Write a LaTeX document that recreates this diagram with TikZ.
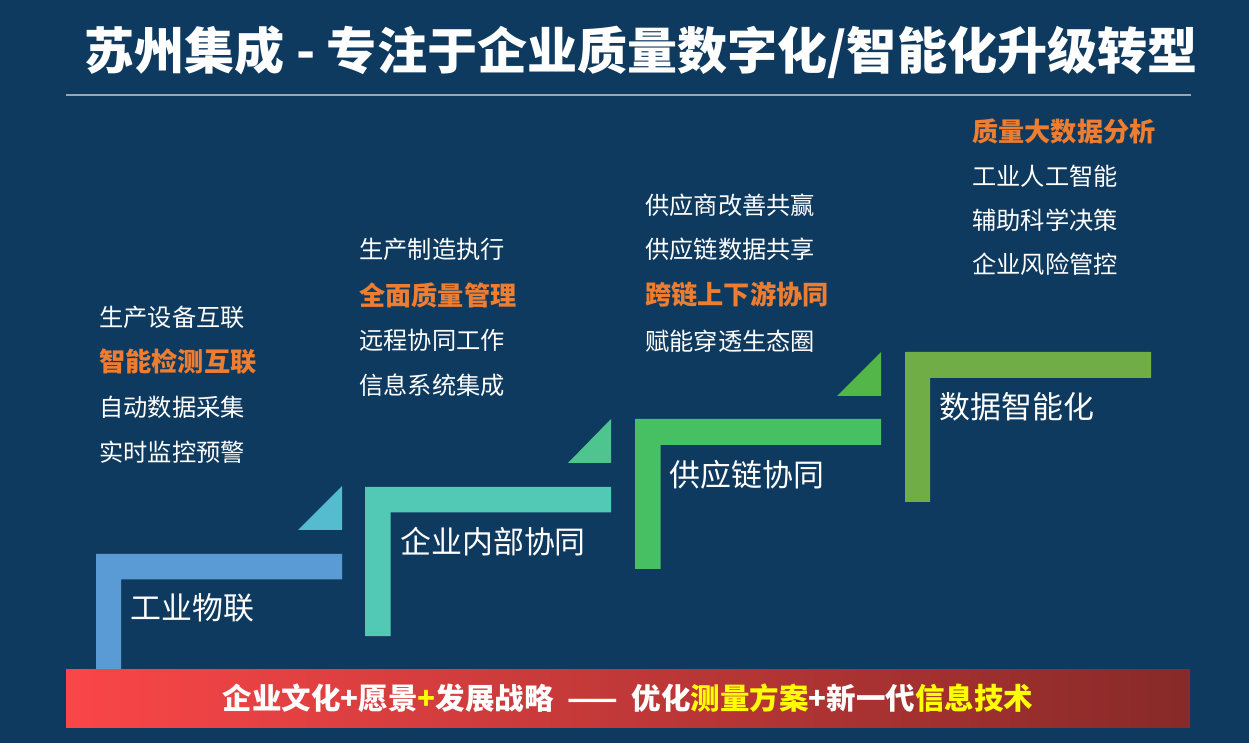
\documentclass[tikz,border=0pt]{standalone}
\usepackage{fontspec}
\setmainfont{Noto Sans CJK SC}
\usetikzlibrary{positioning}
\definecolor{jcbg}{HTML}{0F3A5F}
\definecolor{jcrule}{HTML}{9AA6B2}
\definecolor{jcblue}{HTML}{5B9BD5}
\definecolor{jcteal}{HTML}{52C9B5}
\definecolor{jcgreen}{HTML}{47BF63}
\definecolor{jcolive}{HTML}{70AD47}
\definecolor{jctriA}{HTML}{55BBCF}
\definecolor{jctriB}{HTML}{4EC48E}
\definecolor{jctriC}{HTML}{52B748}
\definecolor{jcorange}{HTML}{ED7D31}
\definecolor{jcyellow}{HTML}{FFFF00}
\definecolor{jcredL}{HTML}{FA4648}
\definecolor{jcredR}{HTML}{872A28}

\begin{document}
\begin{tikzpicture}[
        x=0.02cm, y=-0.02cm,
        every node/.style={inner sep=0pt, text=white},
        title/.style={font=\fontsize{28.5}{32}\selectfont\bfseries},
        item/.style={anchor=west, font=\fontsize{13.8}{16}\selectfont},
        hot/.style={anchor=west, text=jcorange, font=\fontsize{14.9}{16}\selectfont\bfseries},
        stagelabel/.style={anchor=west, font=\fontsize{17.6}{20}\selectfont},
        basebar/.style={font=\fontsize{16.8}{18}\selectfont\bfseries},
      ]
      % background and frame
      \fill[jcbg] (0,0) rectangle (1249,743);
      \useasboundingbox (0,0) rectangle (1249,743);

      % title
      \node[title] (head) at (641,52) {苏州集成 - 专注于企业质量数字化/智能化升级转型};
      \draw[jcrule, line width=1pt] (66,95) -- (1191,95);

      % steps
      \fill[jcblue] (96,704) -- (96,554) -- (342,554) -- (342,579.5) -- (121,579.5) -- (121,704) -- cycle;
      \fill[jcteal] (365,636) -- (365,487) -- (611,487) -- (611,512.5) -- (390.5,512.5) -- (390.5,636) -- cycle;
      \fill[jcgreen] (635,569) -- (635,419) -- (881,419) -- (881,445) -- (660.5,445) -- (660.5,569) -- cycle;
      \fill[jcolive] (905,502) -- (905,352) -- (1151,352) -- (1151,378) -- (930,378) -- (930,502) -- cycle;

      % arrows between steps
      \fill[jctriA] (342,486) -- (298,530) -- (342,530) -- cycle;
      \fill[jctriB] (611,419) -- (568,463) -- (611,463) -- cycle;
      \fill[jctriC] (881,352) -- (837,396) -- (881,396) -- cycle;

      \node[stagelabel] (iot) at (130,608) {工业物联};
      \node[stagelabel] (inner) at (400,542) {企业内部协同};
      \node[stagelabel] (chain) at (669,475) {供应链协同};
      \node[stagelabel] (data) at (939,407) {数据智能化};

      % lists
      \node[item] (iotA) at (99,317) {生产设备互联};
      \node[hot]  (iotB) at (99,362) {智能检测互联};
      \node[item] (iotC) at (99,407) {自动数据采集};
      \node[item] (iotD) at (99,452) {实时监控预警};

      \node[item] (inA) at (359,249) {生产制造执行};
      \node[hot]  (inB) at (359,295) {全面质量管理};
      \node[item] (inC) at (359,340) {远程协同工作};
      \node[item] (inD) at (359,385) {信息系统集成};

      \node[item] (chA) at (645,205) {供应商改善共赢};
      \node[item] (chB) at (645,249) {供应链数据共享};
      \node[hot]  (chC) at (645,294) {跨链上下游协同};
      \node[item] (chD) at (645,341) {赋能穿透生态圈};

      \node[hot]  (daA) at (972,131) {质量大数据分析};
      \node[item] (daB) at (972,176) {工业人工智能};
      \node[item] (daC) at (972,220) {辅助科学决策};
      \node[item] (daD) at (972,264) {企业风险管控};

      % base bar
      \shade[left color=jcredL, right color=jcredR] (66,669) rectangle (1190,727);
      \node[basebar] (base) at (628,698) {企业文化+愿景\textcolor{jcyellow}{+}发展战略\ \ ——\ \ 优化\textcolor{jcyellow}{测量方案}+新一代\textcolor{jcyellow}{信息技术}};
    \end{tikzpicture}
\end{document}
